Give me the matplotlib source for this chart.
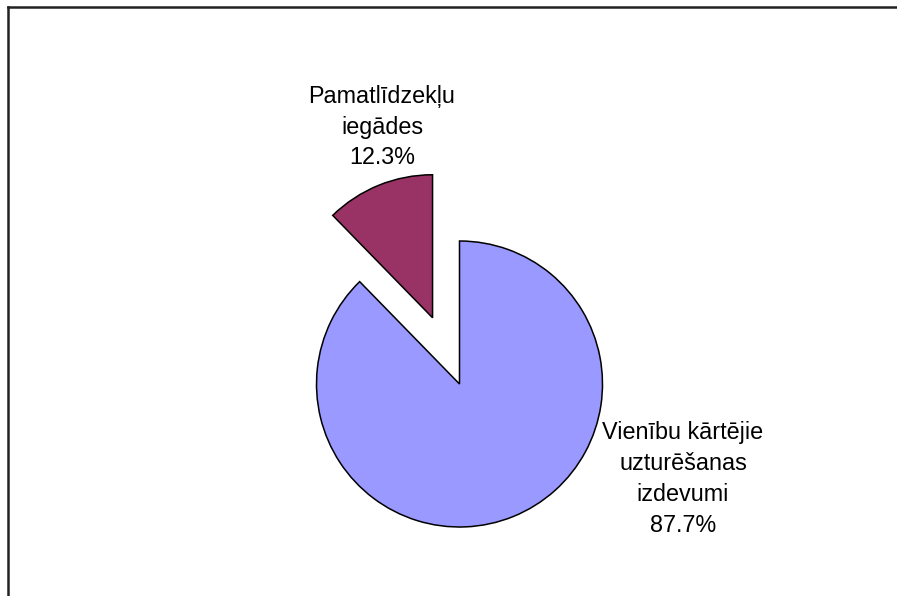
import matplotlib.pyplot as plt
from matplotlib.lines import Line2D

plt.rcParams['font.family'] = ['Liberation Sans', 'DejaVu Sans']

labels = ['Vienību kārtējie\nuzturēšanas\nizdevumi', 'Pamatlīdzekļu\niegādes']
shares = [87.7, 12.3]
colors = ['#9999FF', '#993366']
explode = [0, 0.5]

W, H = 897, 596
R = 143.0  # pie radius in pixels
cx, cy = 459.5, 596 - 384

fig = plt.figure(figsize=(W / 100, H / 100), dpi=100)
ax = fig.add_axes([0, 0, 1, 1])

ax.pie(shares, colors=colors, explode=explode, startangle=90, counterclock=False,
       radius=1, frame=True,
       wedgeprops=dict(edgecolor='black', linewidth=1.1))
ax.set_xlim(-cx / R, (W - cx) / R)
ax.set_ylim(-cy / R, (H - cy) / R)
ax.axis('off')

# data labels
label_pos = [(1.563, -0.664), (-0.542, 1.797)]
for lab, val, (x, y) in zip(labels, shares, label_pos):
    ax.text(x, y, '%s\n%.1f%%' % (lab, val), ha='center', va='center',
            fontsize=16.8, linespacing=1.43)

# frame on top and left
fig.add_artist(Line2D([7.5 / W, 1], [1 - 6.5 / H, 1 - 6.5 / H], color='#222222',
                      linewidth=1.8, transform=fig.transFigure))
fig.add_artist(Line2D([7.5 / W, 7.5 / W], [0, 1 - 6.5 / H], color='#222222',
                      linewidth=1.8, transform=fig.transFigure))

fig.savefig('out.png', dpi=100)
